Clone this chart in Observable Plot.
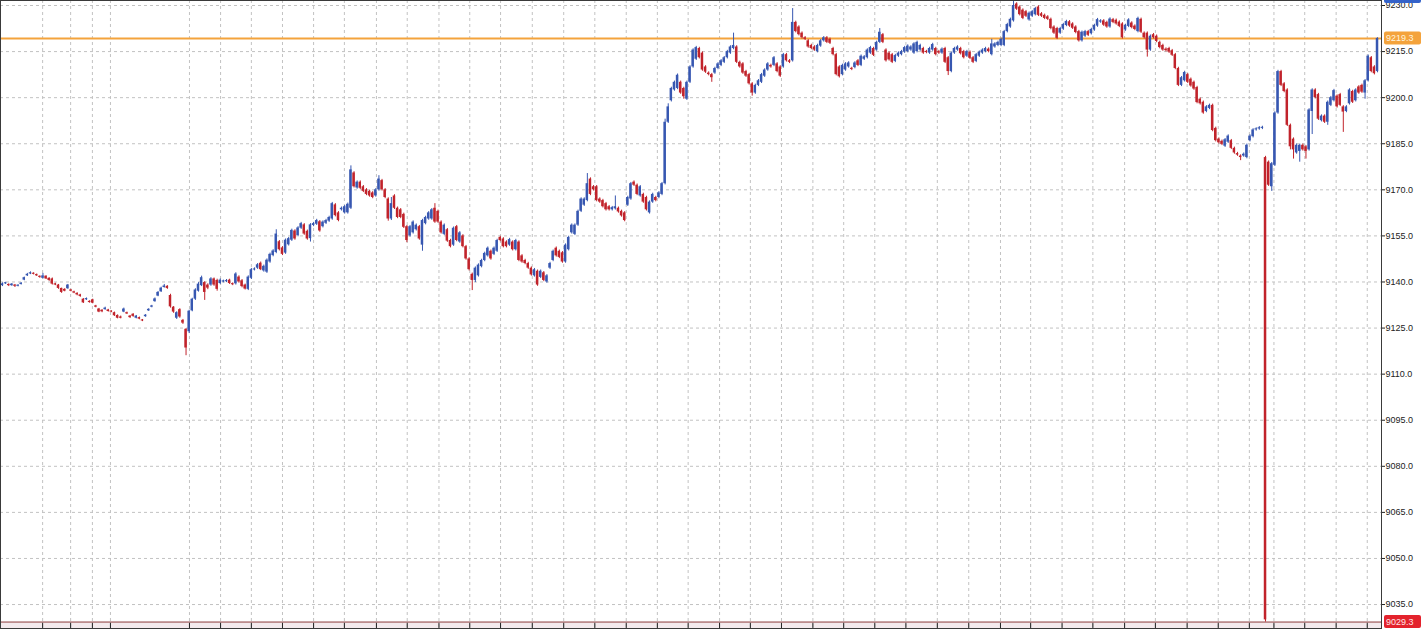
<!DOCTYPE html>
<html><head><meta charset="utf-8">
<script src="https://cdn.jsdelivr.net/npm/d3@7"></script>
<script src="https://cdn.jsdelivr.net/npm/@observablehq/plot@0.6"></script>
<style>html,body{margin:0;padding:0;background:#fff;}#chart{position:absolute;left:0;top:0;}</style>
</head><body><div id="chart"></div>
<script>
// ---- data (bar index = time order) ----
const open = [
9138.8,9139.4,9139.2,9138.8,9139.0,9138.6,9139.2,9140.6,9142.0,9142.6,
9142.8,9142.4,9141.8,9141.2,9141.9,9141.2,9141.0,9139.4,9139.0,9137.9,
9137.6,9137.8,9137.4,9136.8,9136.3,9135.8,9134.4,9134.2,9133.7,9134.2,
9132.2,9131.2,9130.8,9131.0,9130.9,9130.4,9130.0,9129.1,9128.6,9130.2,
9130.0,9128.9,9129.5,9128.2,9128.4,9127.6,9128.7,9130.6,9131.8,9133.6,
9135.4,9136.8,9138.2,9138.6,9135.6,9131.8,9128.2,9131.0,9127.5,9124.6,
9123.8,9130.6,9134.4,9137.0,9138.8,9139.8,9139.0,9139.0,9141.0,9140.5,
9139.5,9140.0,9140.1,9140.6,9139.4,9139.4,9141.6,9140.4,9139.0,9137.6,
9141.2,9143.9,9144.5,9146.1,9143.6,9143.2,9146.5,9148.6,9149.6,9153.1,
9151.1,9149.4,9152.1,9153.6,9156.6,9155.1,9157.5,9158.6,9156.5,9154.1,
9158.4,9158.8,9159.6,9158.0,9159.1,9159.8,9160.5,9165.1,9162.5,9163.5,
9162.5,9162.5,9164.0,9175.5,9170.6,9172.5,9171.0,9170.0,9169.5,9169.0,
9168.0,9170.0,9173.0,9170.0,9167.0,9160.5,9168.0,9164.0,9163.5,9162.0,
9158.0,9155.0,9156.0,9157.0,9158.0,9152.0,9159.0,9160.5,9160.5,9164.0,
9163.0,9159.5,9155.5,9157.0,9153.5,9152.0,9158.0,9153.0,9155.0,9151.5,
9147.5,9142.5,9140.5,9142.0,9145.0,9147.0,9148.5,9150.0,9149.0,9150.0,
9154.5,9154.0,9153.0,9152.0,9153.0,9150.5,9153.0,9148.5,9147.0,9146.0,
9144.5,9142.0,9143.5,9141.5,9143.0,9140.0,9144.5,9147.0,9151.0,9150.0,
9149.5,9146.5,9150.5,9156.0,9155.5,9158.5,9163.0,9165.0,9166.5,9173.5,
9171.0,9171.0,9167.0,9166.5,9165.5,9164.5,9163.5,9163.8,9164.0,9163.0,
9162.5,9165.0,9167.0,9172.5,9171.5,9168.0,9168.5,9167.5,9162.5,9166.0,
9167.5,9167.5,9168.5,9172.0,9192.0,9199.0,9202.5,9203.0,9205.0,9203.0,
9199.5,9205.0,9210.0,9212.5,9216.0,9214.5,9210.0,9208.0,9207.5,9208.0,
9209.5,9210.5,9211.5,9213.0,9214.5,9216.0,9216.5,9211.5,9211.0,9208.5,
9207.5,9204.5,9201.5,9204.0,9205.0,9207.0,9209.0,9210.5,9210.5,9211.0,
9210.0,9210.0,9214.0,9212.0,9212.0,9224.5,9223.0,9221.0,9219.5,9218.5,
9217.0,9216.5,9215.0,9216.8,9218.5,9219.5,9219.0,9216.0,9214.0,9210.0,
9207.5,9209.0,9210.0,9209.5,9209.8,9212.0,9210.5,9212.5,9213.0,9214.5,
9216.0,9215.5,9218.0,9220.5,9215.5,9214.5,9214.0,9211.8,9213.5,9214.0,
9214.8,9215.0,9215.5,9214.5,9215.0,9215.5,9216.0,9215.0,9214.5,9215.5,
9216.0,9215.0,9214.5,9216.0,9213.0,9208.5,9214.5,9215.5,9216.0,9215.0,
9213.5,9214.8,9213.0,9211.8,9213.5,9214.5,9215.0,9215.8,9214.0,9216.5,
9217.0,9217.0,9217.0,9221.5,9223.0,9225.0,9230.5,9229.5,9228.5,9228.0,
9225.3,9226.5,9227.0,9229.5,9227.3,9226.8,9226.3,9225.5,9223.0,9222.5,
9221.0,9222.3,9223.5,9224.7,9224.0,9223.0,9221.5,9218.5,9220.0,9221.5,
9220.8,9222.0,9223.3,9224.6,9225.0,9224.5,9223.0,9225.4,9225.2,9224.6,
9224.0,9222.0,9223.2,9224.3,9223.3,9221.5,9225.5,9221.0,9221.0,9215.5,
9220.5,9220.0,9218.0,9217.0,9215.8,9216.0,9215.3,9214.0,9209.5,9204.0,
9205.5,9207.5,9206.0,9205.0,9203.3,9199.5,9198.5,9195.5,9196.5,9197.5,
9190.0,9186.5,9185.8,9184.2,9185.5,9186.0,9183.5,9181.8,9181.0,9181.0,
9180.5,9186.0,9187.3,9189.5,9189.8,9190.0,9180.5,9179.0,9171.0,9178.0,
9195.0,9208.5,9204.5,9202.5,9191.0,9186.5,9182.0,9182.5,9184.5,9184.0,
9183.0,9195.5,9202.5,9201.0,9192.5,9194.0,9192.0,9197.5,9199.0,9200.5,
9201.0,9197.0,9195.5,9198.0,9202.0,9199.0,9203.5,9204.0,9201.5,9205.5,
9213.0,9210.0,9208.5];
const close = [
9139.4,9139.6,9138.8,9139.3,9138.6,9138.9,9139.6,9141.4,9142.5,9143.0,
9142.5,9142.0,9141.5,9142.0,9141.0,9140.5,9139.3,9139.0,9137.9,9136.6,
9137.0,9139.0,9137.0,9136.4,9135.8,9135.3,9133.2,9134.6,9133.3,9133.1,
9131.8,9130.2,9130.3,9131.5,9130.4,9130.2,9129.0,9128.2,9128.2,9131.2,
9129.6,9128.4,9128.8,9128.9,9127.9,9127.3,9129.2,9131.1,9132.2,9134.5,
9136.6,9138.0,9138.7,9137.9,9131.9,9130.2,9130.0,9128.6,9126.6,9118.5,
9130.5,9134.4,9137.4,9139.3,9141.4,9136.6,9138.0,9141.0,9139.0,9137.6,
9140.6,9140.2,9140.4,9139.5,9139.1,9142.6,9140.0,9138.5,9137.7,9141.6,
9144.0,9144.2,9145.6,9144.0,9145.1,9147.1,9149.0,9150.1,9155.6,9150.5,
9149.0,9153.6,9154.1,9156.8,9154.0,9157.6,9159.0,9155.6,9154.0,9158.6,
9159.0,9160.0,9156.6,9159.5,9160.0,9161.0,9165.5,9161.6,9160.0,9164.0,
9164.5,9165.3,9176.5,9171.0,9172.5,9170.5,9169.5,9168.5,9168.0,9167.5,
9170.0,9173.5,9170.0,9167.5,9160.5,9165.5,9164.0,9161.0,9161.0,9157.8,
9153.5,9158.0,9159.5,9158.5,9154.0,9160.0,9161.0,9162.5,9163.5,9159.5,
9159.5,9156.0,9158.5,9153.3,9151.5,9157.5,9153.5,9156.0,9151.5,9147.5,
9144.0,9140.5,9144.5,9145.5,9147.0,9149.3,9151.0,9147.5,9151.0,9153.5,
9153.5,9151.5,9151.5,9153.8,9150.5,9153.5,9147.0,9146.5,9146.0,9144.5,
9142.3,9144.0,9139.0,9143.5,9140.5,9142.0,9146.0,9150.0,9148.5,9148.0,
9146.5,9152.0,9154.5,9158.5,9158.5,9163.0,9167.0,9167.0,9172.0,9168.5,
9170.0,9166.5,9166.0,9164.5,9163.5,9163.5,9164.2,9164.5,9162.8,9161.5,
9160.0,9167.5,9172.0,9171.5,9168.5,9171.0,9166.0,9163.5,9166.0,9168.5,
9166.5,9169.0,9172.0,9192.0,9197.0,9203.0,9205.0,9207.3,9201.5,9200.3,
9205.0,9210.0,9215.5,9216.3,9213.0,9209.0,9208.3,9207.5,9206.5,9209.5,
9211.0,9212.0,9213.0,9215.0,9216.5,9217.0,9211.5,9210.0,9208.0,9207.0,
9204.5,9201.5,9204.0,9205.5,9207.5,9209.0,9211.0,9210.0,9213.0,9208.5,
9207.0,9214.0,9212.0,9211.5,9224.5,9221.5,9220.5,9219.5,9219.0,9216.5,
9216.0,9215.5,9217.0,9218.5,9219.5,9218.0,9217.7,9214.0,9207.5,9206.8,
9210.5,9211.0,9211.3,9209.2,9211.3,9210.5,9213.5,9213.3,9215.5,9216.3,
9213.8,9218.0,9221.3,9218.0,9212.0,9212.3,9211.5,9213.7,9214.5,9215.0,
9216.3,9216.8,9216.5,9217.5,9218.0,9217.0,9214.5,9214.7,9216.0,9217.3,
9214.0,9214.5,9215.8,9211.5,9208.5,9214.5,9216.0,9216.5,9214.3,9213.0,
9215.0,9212.8,9211.5,9214.0,9214.8,9215.5,9216.0,9215.0,9217.5,9217.5,
9218.0,9219.0,9221.5,9223.8,9225.5,9230.0,9228.8,9227.0,9225.8,9226.5,
9227.5,9228.0,9229.0,9226.8,9226.5,9225.8,9225.5,9222.5,9221.0,9219.3,
9222.5,9223.8,9224.8,9223.3,9222.6,9221.2,9218.5,9221.3,9221.5,9220.3,
9222.2,9223.5,9225.4,9225.0,9223.6,9223.0,9225.6,9224.5,9224.0,9223.2,
9219.5,9223.5,9225.3,9222.8,9222.2,9225.8,9221.3,9219.5,9215.5,9220.0,
9219.5,9218.3,9216.3,9215.5,9215.3,9214.8,9213.8,9209.5,9204.0,9206.5,
9208.2,9205.0,9203.8,9202.8,9198.4,9198.0,9195.0,9197.0,9197.5,9189.3,
9186.0,9185.3,9184.8,9186.3,9187.5,9183.5,9182.0,9181.3,9180.5,9181.6,
9184.5,9187.5,9189.5,9189.8,9190.2,9190.3,9030.0,9171.5,9178.5,9195.0,
9208.5,9204.0,9202.0,9191.0,9184.0,9183.0,9184.5,9184.5,9183.0,9182.5,
9196.0,9202.5,9200.0,9193.0,9194.0,9192.0,9198.5,9200.0,9202.3,9197.0,
9197.5,9195.3,9197.0,9202.5,9198.5,9202.5,9201.5,9201.8,9205.5,9213.5,
9208.5,9207.8,9219.3];
const high = [
9139.7,9139.9,9139.4,9139.5,9139.2,9139.1,9139.8,9141.6,9142.8,9143.3,
9143.0,9142.6,9142.0,9142.8,9142.0,9141.4,9141.3,9139.6,9139.2,9138.0,
9137.8,9139.2,9137.6,9137.0,9136.5,9136.0,9134.6,9134.8,9133.9,9134.4,
9132.4,9131.4,9131.0,9131.8,9131.1,9130.6,9130.2,9129.3,9128.9,9131.5,
9130.2,9129.1,9129.7,9129.1,9128.6,9127.8,9129.4,9131.3,9132.4,9134.8,
9136.9,9138.3,9139.2,9138.8,9136.0,9132.0,9130.3,9131.3,9127.8,9124.8,
9130.8,9134.7,9137.8,9139.8,9141.9,9140.1,9139.4,9141.4,9141.3,9140.9,
9141.0,9140.6,9140.8,9140.9,9139.7,9143.0,9142.0,9140.8,9139.3,9142.0,
9144.4,9144.6,9146.0,9146.5,9145.5,9147.5,9149.4,9150.5,9157.0,9153.5,
9151.5,9154.0,9154.5,9157.2,9157.0,9158.0,9159.4,9159.0,9156.9,9159.0,
9159.4,9160.4,9160.0,9159.9,9160.4,9161.4,9165.9,9165.5,9162.9,9164.4,
9164.9,9165.7,9177.8,9175.9,9172.9,9172.9,9171.4,9170.4,9169.9,9169.4,
9170.4,9174.6,9173.4,9170.4,9167.4,9167.5,9168.4,9164.4,9163.9,9162.4,
9158.4,9158.4,9159.9,9158.9,9158.4,9160.4,9161.4,9162.9,9163.9,9165.5,
9163.4,9159.9,9158.9,9157.4,9153.9,9157.9,9158.4,9156.4,9155.4,9151.9,
9147.9,9142.9,9144.9,9145.9,9147.4,9149.7,9151.4,9150.4,9151.4,9153.9,
9154.9,9154.4,9153.4,9154.2,9153.4,9153.9,9153.4,9148.9,9147.4,9146.4,
9144.9,9144.4,9143.9,9143.9,9143.4,9142.4,9146.4,9150.4,9151.4,9150.4,
9149.9,9152.4,9154.9,9158.9,9158.9,9163.4,9167.4,9167.4,9175.3,9173.9,
9171.4,9171.4,9167.4,9166.9,9165.9,9164.9,9164.6,9168.0,9164.4,9163.4,
9162.9,9167.9,9172.4,9172.9,9171.9,9171.4,9168.9,9167.9,9166.4,9168.9,
9167.9,9169.4,9172.4,9193.0,9198.0,9203.4,9205.4,9207.7,9205.4,9203.4,
9205.4,9210.4,9215.9,9216.7,9216.4,9214.9,9210.4,9208.4,9207.9,9209.9,
9211.4,9212.4,9213.4,9215.4,9216.9,9221.0,9216.9,9211.9,9211.4,9208.9,
9207.9,9204.9,9204.4,9205.9,9207.9,9209.4,9211.4,9210.9,9213.4,9211.4,
9210.4,9214.4,9214.4,9212.4,9229.0,9224.9,9223.4,9221.4,9219.9,9218.9,
9217.4,9216.9,9217.4,9218.9,9219.9,9219.9,9219.4,9216.4,9214.4,9210.4,
9210.9,9211.4,9211.7,9209.9,9211.7,9212.4,9213.9,9213.7,9215.9,9216.7,
9216.4,9218.4,9222.5,9220.9,9215.9,9214.9,9214.4,9214.1,9214.9,9215.4,
9216.7,9217.2,9216.9,9217.9,9218.4,9217.4,9216.4,9215.4,9216.4,9217.7,
9216.4,9215.4,9216.2,9216.4,9213.4,9214.9,9216.4,9216.9,9216.4,9215.4,
9215.4,9215.2,9213.4,9214.4,9215.2,9215.9,9216.4,9216.2,9219.0,9217.9,
9218.4,9219.4,9221.9,9224.2,9225.9,9231.3,9230.9,9229.9,9228.9,9228.4,
9227.9,9228.4,9229.4,9229.9,9227.7,9227.2,9226.7,9225.9,9223.4,9222.9,
9222.9,9224.2,9225.2,9225.1,9224.4,9223.4,9221.9,9221.7,9221.9,9221.9,
9222.6,9223.9,9225.8,9225.4,9225.4,9224.9,9226.0,9225.8,9225.6,9225.0,
9224.4,9223.9,9225.7,9224.7,9223.7,9226.2,9225.9,9221.4,9221.4,9220.4,
9220.9,9220.4,9218.4,9217.4,9216.2,9216.4,9215.7,9214.4,9209.9,9206.9,
9208.6,9207.9,9206.4,9205.4,9203.7,9199.9,9198.9,9197.4,9197.9,9197.9,
9190.4,9186.9,9186.2,9186.7,9187.9,9186.4,9183.9,9182.2,9181.4,9182.0,
9184.9,9187.9,9189.9,9190.2,9190.6,9190.7,9180.9,9179.4,9178.9,9195.4,
9208.9,9208.9,9204.9,9202.9,9191.4,9186.9,9184.9,9184.9,9184.9,9184.4,
9196.4,9202.9,9202.9,9201.4,9194.4,9194.4,9198.9,9200.4,9202.7,9200.9,
9201.4,9197.4,9197.4,9202.9,9202.4,9202.9,9203.9,9204.4,9205.9,9213.9,
9213.4,9210.4,9219.5];
const low = [
9138.5,9139.2,9138.5,9138.6,9138.2,9138.4,9139.0,9140.4,9141.8,9142.4,
9142.3,9141.8,9141.2,9141.0,9140.8,9140.2,9139.0,9138.8,9137.6,9136.3,
9136.8,9137.6,9136.8,9136.2,9135.5,9135.0,9133.0,9134.0,9133.1,9132.9,
9131.6,9130.0,9130.0,9130.8,9130.2,9130.0,9128.8,9128.0,9128.0,9130.0,
9129.4,9128.1,9128.5,9128.0,9127.7,9127.1,9128.5,9130.4,9131.6,9133.4,
9135.2,9136.6,9138.0,9137.6,9131.5,9129.8,9127.8,9128.2,9126.2,9116.0,
9123.2,9130.3,9134.0,9136.7,9138.5,9134.0,9137.5,9138.6,9138.6,9137.0,
9139.2,9139.7,9139.8,9139.2,9138.8,9139.0,9139.6,9138.1,9137.4,9137.2,
9140.8,9143.6,9144.1,9143.7,9143.2,9142.8,9146.1,9148.2,9149.2,9150.1,
9148.6,9149.0,9151.7,9153.2,9153.6,9154.7,9157.1,9155.2,9153.6,9153.0,
9158.0,9158.4,9156.2,9157.6,9158.7,9159.4,9160.1,9161.2,9159.6,9163.1,
9162.1,9162.1,9163.6,9170.6,9170.2,9170.1,9169.1,9168.1,9167.6,9167.1,
9167.6,9169.6,9169.6,9167.1,9159.8,9160.0,9163.6,9160.6,9160.6,9157.4,
9152.8,9154.6,9155.6,9156.6,9153.6,9150.0,9158.6,9160.1,9160.1,9159.1,
9159.1,9155.6,9155.1,9152.9,9151.1,9151.6,9153.1,9152.6,9151.1,9147.1,
9143.6,9137.2,9139.8,9141.6,9144.6,9146.6,9148.1,9147.1,9148.6,9149.6,
9153.1,9151.1,9151.1,9151.6,9150.1,9150.1,9146.6,9146.1,9145.6,9144.1,
9141.9,9141.6,9138.6,9141.1,9140.1,9139.6,9144.1,9146.6,9148.1,9147.6,
9146.1,9146.1,9150.1,9155.6,9155.1,9158.1,9162.6,9164.6,9166.1,9168.1,
9169.6,9166.1,9165.6,9164.1,9163.1,9163.1,9163.1,9163.4,9162.4,9161.1,
9159.6,9164.6,9166.6,9171.1,9168.1,9167.6,9165.6,9163.1,9162.1,9165.6,
9166.1,9167.1,9168.1,9171.6,9191.6,9198.6,9202.1,9202.6,9201.1,9199.5,
9199.1,9204.6,9209.6,9212.1,9212.6,9208.6,9207.9,9207.1,9205.0,9207.6,
9209.1,9210.1,9211.1,9212.6,9214.1,9215.6,9211.1,9209.6,9207.6,9206.6,
9204.1,9200.5,9201.1,9203.6,9204.6,9206.6,9208.6,9209.6,9210.1,9208.1,
9206.6,9209.6,9211.6,9211.1,9211.6,9221.1,9220.1,9219.1,9218.6,9216.1,
9215.6,9215.1,9214.6,9216.4,9218.1,9217.6,9217.3,9213.6,9207.1,9206.4,
9207.1,9208.6,9209.6,9208.8,9209.4,9210.1,9210.1,9212.1,9212.6,9214.1,
9213.4,9215.1,9217.6,9217.6,9211.6,9211.9,9211.1,9211.4,9213.1,9213.6,
9214.4,9214.6,9215.1,9214.1,9214.6,9215.1,9214.1,9214.3,9214.1,9215.1,
9213.6,9214.1,9214.1,9211.1,9207.2,9208.1,9214.1,9215.1,9213.9,9212.6,
9213.1,9212.4,9211.1,9211.4,9213.1,9214.1,9214.6,9214.6,9213.6,9216.1,
9216.6,9216.6,9216.6,9221.1,9222.6,9224.6,9228.4,9226.6,9225.4,9226.1,
9224.9,9226.1,9226.6,9226.4,9226.1,9225.4,9225.1,9222.1,9220.6,9218.9,
9220.6,9221.9,9223.1,9222.9,9222.2,9220.8,9218.1,9218.1,9219.6,9219.9,
9220.4,9221.6,9222.9,9224.2,9223.2,9222.6,9222.6,9224.1,9223.6,9222.8,
9219.1,9221.6,9222.8,9222.4,9221.8,9221.1,9220.9,9219.1,9213.2,9215.1,
9219.1,9217.9,9215.9,9215.1,9214.9,9214.4,9213.4,9209.1,9203.6,9203.6,
9205.1,9204.6,9203.4,9202.4,9198.0,9197.6,9194.6,9195.1,9196.1,9188.9,
9185.6,9184.9,9184.4,9183.8,9185.1,9183.1,9181.6,9180.9,9179.5,9180.6,
9180.1,9185.6,9186.9,9189.1,9189.4,9189.6,9029.3,9171.1,9169.5,9177.6,
9194.6,9203.6,9201.6,9190.6,9183.0,9180.0,9181.6,9179.0,9182.6,9180.0,
9182.6,9188.0,9199.6,9192.6,9192.1,9191.6,9191.0,9197.1,9198.6,9196.6,
9197.1,9188.7,9195.1,9197.6,9198.1,9198.6,9201.1,9201.4,9199.5,9205.1,
9208.1,9207.4,9208.1];

// price axis ticks and hourly time grid (bar-index units)
const priceTicks = [9035,9050,9065,9080,9095,9110,9125,9140,9155,9170,9185,9200,9215,9230];
const timeGrid = [12.9,21.9,28.9,34.7,60.1,70.1,80.0,90.0,100.0,109.9,120.2,130.1,140.3,150.2,
  160.1,170.3,180.4,190.4,200.5,210.5,220.4,230.5,240.4,250.4,260.5,270.4,280.4,290.4,300.5,
  310.6,320.8,330.5,340.6,350.5,360.7,370.6,380.8,390.8,400.8,408.7,418.6,428.7,438.7];
const lastPrice = 9219.3;   // orange line / tag
const bidPrice  = 9029.3;   // red tag / bottom line

const yDomain = [9027.2, 9231.63];
const xDomain = [-0.643, 443.28];
const BLUE = "#3757b1", RED = "#c1232b";

const bars = close.map((c, i) => ({i, o: open[i], h: high[i], l: low[i], c}));
const col = d => d.c >= d.o ? BLUE : RED;

const W = 1422, H = 629, MR = 41;
const chart = Plot.plot({
  width: W, height: H,
  marginLeft: 0, marginRight: MR, marginTop: 0, marginBottom: 1,
  style: {background: "#fff", fontFamily: "'Liberation Sans', Arial, sans-serif", fontSize: "9px", color: "#222"},
  x: {type: "linear", domain: xDomain, axis: null},
  y: {domain: yDomain, axis: null},
  marks: [
    Plot.rect([bidPrice], {y1: yDomain[0], y2: d => d, fill: "#f4eaed"}),
    Plot.gridY(priceTicks, {stroke: "#c2c2c2", strokeOpacity: 1, strokeDasharray: "3,3"}),
    Plot.gridX(timeGrid, {stroke: "#c2c2c2", strokeOpacity: 1, strokeDasharray: "3,3"}),
    Plot.ruleY([lastPrice], {stroke: "#f4a33c", strokeWidth: 2}),
    Plot.ruleY([bidPrice], {stroke: "#8e3e3e", strokeWidth: 1}),
    Plot.ruleX(bars, {x: "i", y1: "l", y2: "h", stroke: col, strokeWidth: 1}),
    Plot.rect(bars, {
      x1: d => d.i - 0.4, x2: d => d.i + 0.4,
      y1: d => Math.min(d.o, d.c),
      y2: d => Math.max(d.o, d.c, Math.min(d.o, d.c) + 0.35),
      fill: col
    }),
    Plot.ruleX(timeGrid, {y1: yDomain[0], y2: yDomain[0] + 1.7, stroke: "#222"}),
    Plot.frame({stroke: "#3a3a3a"}),
    Plot.axisY(priceTicks, {anchor: "right", tickSize: 3, tickPadding: 1,
      tickFormat: d3.format(".1f"), fontSize: 9, color: "#222"})
  ]
});
document.getElementById("chart").appendChild(chart);

// price tags on the right axis, placed through the plot's own y scale
const ys = chart.scale("y");
const svg = d3.select(chart);
const tagX = W - MR + 3;
function tag(value, fill, textFill) {
  const y = ys.apply(value);
  svg.append("rect").attr("x", tagX).attr("y", y - 6.5).attr("width", 37).attr("height", 13)
    .attr("rx", 2).attr("fill", fill);
  svg.append("text").attr("x", tagX + 2).attr("y", y).attr("dy", "0.34em")
    .attr("text-anchor", "start")
    .attr("fill", textFill).attr("font-size", 9)
    .attr("font-family", "'Liberation Sans', Arial, sans-serif")
    .text(d3.format(".1f")(value));
}
tag(lastPrice, "#f4a33c", "#fff4dc");
tag(bidPrice, "#e3222c", "#ffe4e4");
// clipped blue tag at the very top edge (only its lower sliver shows)
svg.append("rect").attr("x", tagX).attr("y", ys.apply(yDomain[1]) - 9).attr("width", 37)
  .attr("height", 12).attr("rx", 2).attr("fill", "#3462c9");
</script>
</body></html>
